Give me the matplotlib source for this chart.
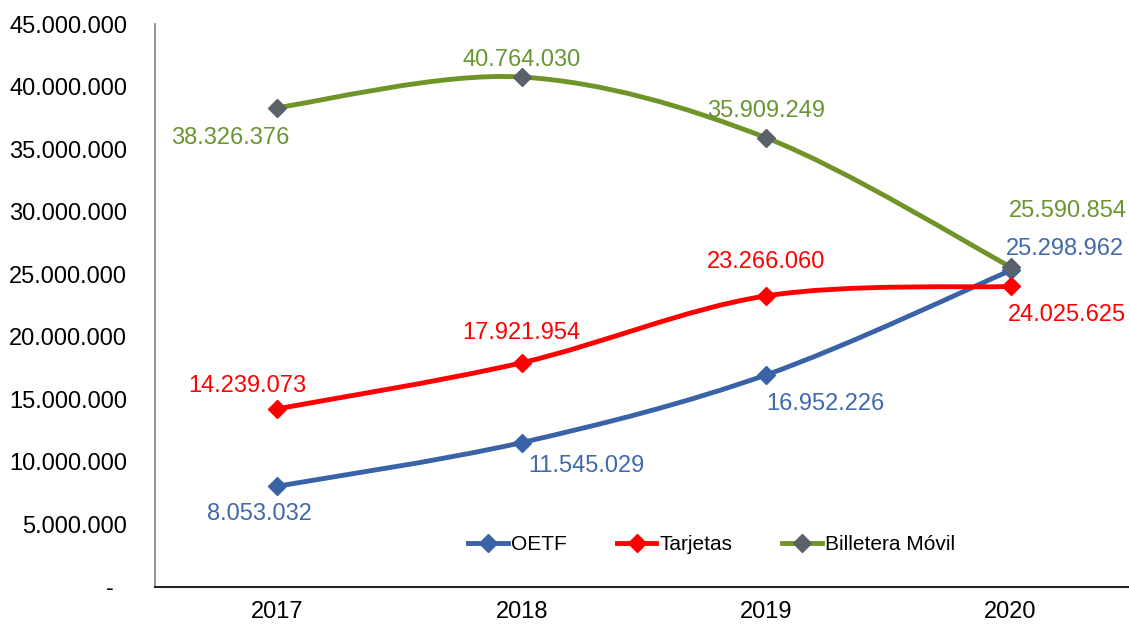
import numpy as np
import matplotlib
matplotlib.use("Agg")
import matplotlib.pyplot as plt
from matplotlib.path import Path
from matplotlib.patches import PathPatch
from matplotlib.ticker import FuncFormatter

plt.rcParams['font.family'] = ['Liberation Sans', 'DejaVu Sans']

years = ["2017", "2018", "2019", "2020"]
oetf = [8053032, 11545029, 16952226, 25298962]
tarjetas = [14239073, 17921954, 23266060, 24025625]
billetera = [38326376, 40764030, 35909249, 25590854]

# colores
c_oetf = "#3A62A7"
c_tarj = "#FF0000"
c_bill = "#6F9428"
c_bill_mk = "#5A6169"
c_oetf_lbl = "#3F68AD"
c_bill_lbl = "#6A9530"


def fmt_num(v):
    return f"{int(round(v)):,}".replace(",", ".")


def smooth_path(xs, ys):
    # curva suavizada tipo Excel (bezier a partir de los puntos)
    pts = np.column_stack([xs, ys]).astype(float)
    n = len(pts)
    verts = [pts[0]]
    codes = [Path.MOVETO]
    for i in range(n - 1):
        p0 = pts[max(i - 1, 0)]
        p1 = pts[i]
        p2 = pts[i + 1]
        p3 = pts[min(i + 2, n - 1)]
        c1 = p1 + (p2 - p0) / 6.0
        c2 = p2 - (p3 - p1) / 6.0
        verts += [c1, c2, p2]
        codes += [Path.CURVE4] * 3
    return Path(verts, codes)


fig = plt.figure(figsize=(11.29, 6.29), dpi=100)
ax = fig.add_axes([0.1373, 0.0668, 0.866, 0.895])

x = np.arange(len(years))
# desplazamientos de etiquetas en pixeles
series = [
    ("OETF", oetf, c_oetf, c_oetf, c_oetf_lbl,
     [(-18, -28), (65, -23), (59, -29), (54, 21)]),
    ("Tarjetas", tarjetas, c_tarj, c_tarj, c_tarj,
     [(-30, 23), (0, 30), (0, 34), (56, -29)]),
    ("Billetera Móvil", billetera, c_bill, c_bill_mk, c_bill_lbl,
     [(-47, -30), (0, 17), (0, 27), (57, 56)]),
]

for name, vals, col, mcol, lcol, offs in series:
    patch = PathPatch(smooth_path(x, vals), facecolor="none", edgecolor=col,
                      lw=3.5, capstyle="round", joinstyle="round", zorder=2)
    ax.add_patch(patch)
    ax.plot(x, vals, linestyle="none", marker="D", markersize=9.5,
            color=mcol, zorder=3)
    ax.plot([], [], color=col, lw=3.5, marker="D", markersize=9.5,
            markerfacecolor=mcol, markeredgecolor=mcol, label=name)
    for xi, v, (dx, dy) in zip(x, vals, offs):
        ax.annotate(fmt_num(v), (xi, v), xytext=(dx, dy),
                    textcoords="offset pixels", ha="center", va="center",
                    fontsize=17, color=lcol)

ax.set_xlim(-0.5, 3.5)
ax.set_ylim(0, 45000000)
ax.set_yticks(np.arange(0, 45000001, 5000000))
ax.yaxis.set_major_formatter(FuncFormatter(
    lambda v, p: "-  " if v == 0 else fmt_num(v)))
ax.set_xticks(x)
ax.set_xticklabels(years)
ax.tick_params(axis="both", length=0, labelsize=17, colors="black")
ax.tick_params(axis="y", pad=20)
ax.tick_params(axis="x", pad=10)

for s in ["top", "right"]:
    ax.spines[s].set_visible(False)
ax.spines["left"].set_color("#7F7F7F")
ax.spines["bottom"].set_color("#262626")
ax.spines["left"].set_linewidth(1.2)
ax.spines["bottom"].set_linewidth(1.5)

ax.legend(loc="center", bbox_to_anchor=(0.5695, 0.075), ncol=3, frameon=False,
          fontsize=15, handlelength=1.9, handletextpad=0.15, columnspacing=2.4)

fig.savefig("out.png", dpi=100)
